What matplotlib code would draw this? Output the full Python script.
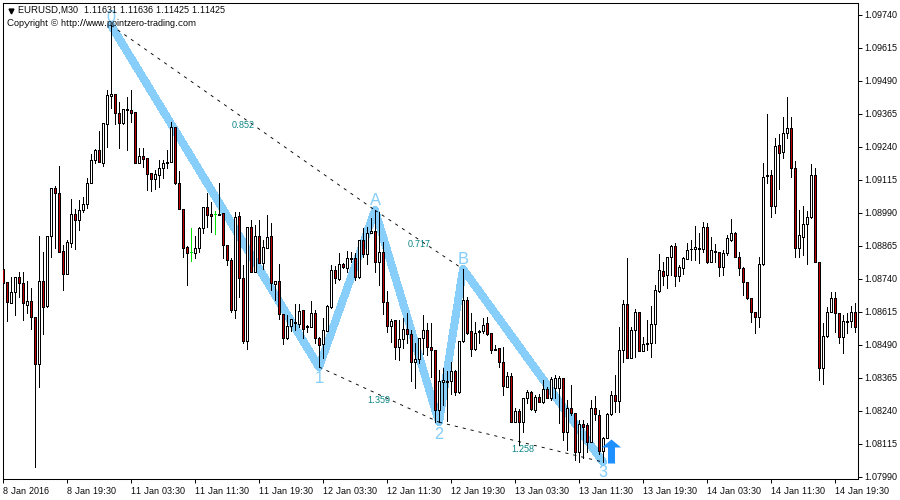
import matplotlib
matplotlib.use('Agg')
import matplotlib.pyplot as plt
from matplotlib.path import Path

# prices in points (1.08776 -> 108776), one entry per M30 bar
opens = [108776,108728,108649,108690,108747,108724,108641,108656,108596,108417,
         108732,108637,108902,109084,109065,108845,108758,108875,108985,108962,
         109000,109023,109103,109190,109228,109179,109326,109434,109440,109368,
         109330,109379,109379,109371,109179,109205,109198,109141,109118,109133,
         109160,109179,109183,109315,109103,109004,108860,108841,108837,108856,
         108932,109012,108985,108985,108985,108989,108868,108811,108622,108977,
         108743,108504,108936,108766,108902,108799,108856,108902,108720,108732,
         108607,108515,108561,108573,108569,108622,108556,108557,108611,108515,
         108493,108542,108633,108773,108739,108796,108781,108814,108818,108747,
         108886,108833,108913,108921,108803,108841,108652,108561,108584,108481,
         108511,108550,108531,108424,108436,108515,108546,108481,108470,108243,
         108349,108349,108353,108390,108311,108504,108660,108542,108474,108540,
         108542,108573,108535,108474,108477,108424,108330,108372,108197,108239,
         108197,108288,108311,108243,108292,108273,108322,108288,108326,108326,
         108364,108159,108251,108232,108083,108190,108186,108121,108251,108224,
         108087,108137,108228,108300,108277,108470,108645,108440,108546,108615,
         108466,108494,108496,108569,108694,108769,108754,108822,108864,108751,
         108781,108814,108852,108853,108855,108853,108936,108803,108843,108841,
         108785,108837,108886,108913,108822,108781,108728,108667,108615,108596,
         108796,109130,109133,109015,109247,109220,109292,109311,109160,108856,
         108898,108947,108973,109133,108803,108402,108523,108615,108667,108611,
         108519,108578,108580,108615]
highs = [108785,108728,108747,108747,108766,108766,108732,108705,108596,108902,
         108841,108902,109084,109092,109167,108868,108886,109042,109004,109038,
         109050,109122,109213,109232,109300,109330,109455,109701,109440,109410,
         109383,109429,109455,109371,109235,109235,109198,109141,109152,109190,
         109190,109228,109334,109315,109148,109004,108864,108932,108902,108936,
         109012,109065,109030,108996,109103,108989,108868,108818,108992,108992,
         108792,108936,108962,108943,108962,108886,108981,108951,108732,108796,
         108607,108603,108588,108645,108645,108622,108565,108656,108622,108519,
         108592,108641,108792,108788,108837,108799,108845,108841,108837,108886,
         108932,108936,108970,109000,108992,108879,108694,108588,108584,108584,
         108592,108611,108546,108496,108515,108603,108573,108573,108470,108394,
         108402,108390,108424,108394,108504,108777,108671,108611,108577,108545,
         108592,108596,108535,108489,108477,108481,108387,108383,108251,108247,
         108288,108319,108315,108300,108304,108357,108330,108368,108375,108372,
         108364,108281,108338,108232,108205,108205,108193,108281,108296,108243,
         108140,108232,108315,108375,108557,108660,108818,108557,108626,108615,
         108519,108584,108637,108717,108833,108803,108822,108868,108875,108792,
         108822,108875,108886,108940,108913,108955,108951,108898,108871,108841,
         108849,108905,108966,108917,108841,108785,108728,108667,108615,108822,
         109179,109364,109152,109273,109288,109353,109429,109353,109186,109000,
         109015,108996,109175,109160,108803,108573,108633,108690,108690,108611,
         108603,108611,108637,108649]
lows = [108660,108580,108649,108603,108671,108584,108611,108550,108027,108330,
        108531,108633,108822,108856,108841,108698,108758,108860,108853,108924,
        108993,109008,109103,109179,109183,109167,109239,109387,109326,109235,
        109326,109228,109334,109179,109179,109164,109076,109073,109080,109088,
        109122,109160,109183,109099,109004,108822,108717,108807,108818,108841,
        108913,108936,108917,108909,108981,108818,108792,108615,108592,108671,
        108496,108474,108766,108766,108799,108777,108856,108698,108660,108588,
        108493,108511,108542,108546,108557,108515,108539,108557,108496,108406,
        108440,108542,108630,108724,108736,108781,108766,108803,108736,108743,
        108822,108796,108913,108766,108717,108607,108539,108500,108436,108432,
        108477,108496,108353,108326,108421,108455,108451,108368,108197,108197,
        108262,108201,108304,108300,108308,108500,108530,108447,108470,108496,
        108535,108527,108459,108470,108406,108300,108330,108197,108197,108109,
        108159,108269,108243,108236,108273,108269,108288,108281,108288,108193,
        108129,108091,108224,108053,108046,108061,108083,108121,108205,108076,
        108046,108137,108224,108236,108236,108424,108440,108440,108443,108466,
        108466,108470,108443,108496,108690,108717,108705,108754,108713,108732,
        108758,108814,108811,108811,108799,108841,108799,108803,108803,108751,
        108754,108830,108883,108822,108754,108679,108664,108577,108535,108557,
        108792,109103,108973,108989,109080,109198,109273,109126,108822,108822,
        108830,108796,108970,108803,108357,108341,108519,108615,108539,108496,
        108459,108535,108557,108539]
closes = [108724,108652,108690,108747,108724,108649,108656,108596,108417,108732,
          108633,108902,109084,109065,108841,108758,108879,108985,108962,109000,
          109023,109103,109190,109228,109183,109330,109437,109440,109368,109330,
          109383,109383,109368,109179,109205,109194,109137,109118,109137,109160,
          109179,109183,109315,109103,109004,108856,108837,108841,108856,108932,
          109012,108981,108977,108985,108981,108868,108811,108622,108973,108743,
          108504,108936,108766,108902,108799,108860,108898,108724,108732,108607,
          108515,108561,108588,108577,108618,108550,108560,108611,108515,108489,
          108546,108637,108773,108743,108796,108785,108818,108818,108747,108886,
          108833,108913,108921,108803,108841,108652,108561,108580,108481,108511,
          108550,108531,108424,108436,108515,108546,108481,108470,108243,108353,
          108357,108352,108390,108311,108504,108660,108535,108474,108535,108543,
          108565,108531,108470,108472,108424,108334,108372,108197,108239,108197,
          108288,108311,108247,108292,108273,108322,108288,108360,108364,108364,
          108159,108251,108232,108083,108190,108178,108121,108251,108228,108087,
          108137,108228,108300,108277,108470,108645,108440,108546,108615,108466,
          108493,108497,108569,108698,108773,108751,108822,108864,108751,108785,
          108818,108849,108854,108860,108858,108936,108803,108849,108847,108785,
          108837,108894,108913,108822,108781,108728,108667,108615,108596,108796,
          109126,109132,109015,109243,109217,109292,109311,109160,108856,108905,
          108947,108973,109133,108803,108402,108523,108615,108667,108611,108519,
          108580,108582,108615,108557]
green_bars = [47, 53]

time_ticks = [0, 16, 32, 48, 64, 80, 96, 112, 128, 144, 160, 176, 192, 208]
time_labels = ['8 Jan 2016', '8 Jan 19:30', '11 Jan 03:30', '11 Jan 11:30', '11 Jan 19:30',
               '12 Jan 03:30', '12 Jan 11:30', '12 Jan 19:30', '13 Jan 03:30', '13 Jan 11:30',
               '13 Jan 19:30', '14 Jan 03:30', '14 Jan 11:30', '14 Jan 19:30']
price_ticks = [109740, 109615, 109490, 109365, 109240, 109115, 108990, 108865,
               108740, 108615, 108490, 108365, 108240, 108115, 107990]

# pattern pivots: bar, 'H'/'L', label, label offset in points
pivots = [(27, 'H', '0', 5.5), (79, 'L', '1', -8.5), (93, 'H', 'A', 6.5),
          (109, 'L', '2', -9), (115, 'H', 'B', 6.5), (150, 'L', '3', -8)]
ratio_lines = [(27, 'H', 93, 'H'), (93, 'H', 115, 'H'), (79, 'L', 109, 'L'), (109, 'L', 150, 'L')]
ratio_labels = [('0.852', 60, 109322), ('0.717', 104, 108869), ('1.359', 94, 108280), ('1.258', 130, 108095)]
arrow_bar = 152
arrow_price = 108087

font = ['Liberation Sans', 'DejaVu Sans']
plt.rcParams['font.family'] = font
plt.rcParams['font.size'] = 6.4
plt.rcParams['text.hinting'] = 'native'
plt.rcParams['text.hinting_factor'] = 1


def pivot_price(bar, kind):
    return highs[bar] if kind == 'H' else lows[bar]


fig = plt.figure(figsize=(9, 5), dpi=100)
ax = fig.add_axes([2.5 / 900, 1 - 479.2 / 500, 855 / 900, 476.7 / 500])

bars = range(len(opens))
normal = [i for i in bars if i not in green_bars]

# zigzag goes under the candles
zx = [p[0] for p in pivots]
zy = [pivot_price(p[0], p[1]) for p in pivots]
ax.plot(zx, zy, color='#87CEFA', lw=5, solid_capstyle='round', solid_joinstyle='round',
        antialiased=False, zorder=1)

for a, ka, b, kb in ratio_lines:
    ax.plot([a, b], [pivot_price(a, ka), pivot_price(b, kb)], color='black', lw=0.65,
            dashes=(3.5, 5.5), zorder=4)

ax.vlines(normal, [lows[i] for i in normal], [highs[i] for i in normal],
          color='black', lw=0.6, antialiased=False, zorder=2)
ax.vlines(green_bars, [lows[i] for i in green_bars], [highs[i] for i in green_bars],
          color='#00E000', lw=0.6, antialiased=False, zorder=2)

bottoms = [min(opens[i], closes[i]) for i in normal]
heights = [abs(closes[i] - opens[i]) for i in normal]
fills = ['white' if closes[i] > opens[i] else '#C00000' for i in normal]
ax.bar(normal, heights, bottom=bottoms, width=0.5, color=fills, edgecolor='black',
       linewidth=0.6, antialiased=False, zorder=3)
ax.hlines([closes[i] for i in green_bars], [i - 0.25 for i in green_bars], [i + 0.25 for i in green_bars],
          color='#00E000', lw=0.6, antialiased=False, zorder=3)

for bar, kind, name, off in pivots:
    ax.annotate(name, (bar, pivot_price(bar, kind)), xytext=(0, off), textcoords='offset points',
                ha='center', va='center', color='#87CEFA', fontsize=12.5,
                family=['Liberation Sans Narrow', 'Liberation Sans'], zorder=5, annotation_clip=False)

for txt, bar, price in ratio_labels:
    ax.text(bar, price, txt, color='#008080', fontsize=6.2, ha='center', va='center', zorder=5)

arrow_marker = Path([(-9.5, 4), (0, 12), (9.5, 4), (3.5, 4), (3.5, -12), (-3.5, -12), (-3.5, 4), (-9.5, 4)])
ax.plot([arrow_bar], [arrow_price], marker=arrow_marker, markersize=17.3, color='#1E90FF',
        markeredgewidth=0, antialiased=False, zorder=6)

ax.set_xlim(-0.125, 213.625)
ax.set_ylim(107981, 109787)

ax.set_xticks(time_ticks)
ax.set_xticklabels(time_labels, ha='left')
ax.set_yticks(price_ticks)
ax.set_yticklabels(['%.5f' % (p / 100000) for p in price_ticks])
ax.yaxis.tick_right()
ax.tick_params(axis='both', length=3, width=0.7, pad=1.8, labelsize=6.6, colors='black')
ax.tick_params(axis='x', pad=2.5)
for s in ax.spines.values():
    s.set_linewidth(0.75)

fig.text(18 / 900, 1 - 11 / 500, 'EURUSD,M30  1.11631 1.11636 1.11425 1.11425', fontsize=6.4, va='center', zorder=7)
fig.text(7 / 900, 1 - 24 / 500, 'Copyright \u00a9 http://www.pointzero-trading.com', fontsize=6.6, va='center', zorder=7)
ax.plot([0.0105], [0.9815], marker='v', color='black', markersize=3.5, transform=ax.transAxes, zorder=7)

fig.savefig('out.png', dpi=100)
